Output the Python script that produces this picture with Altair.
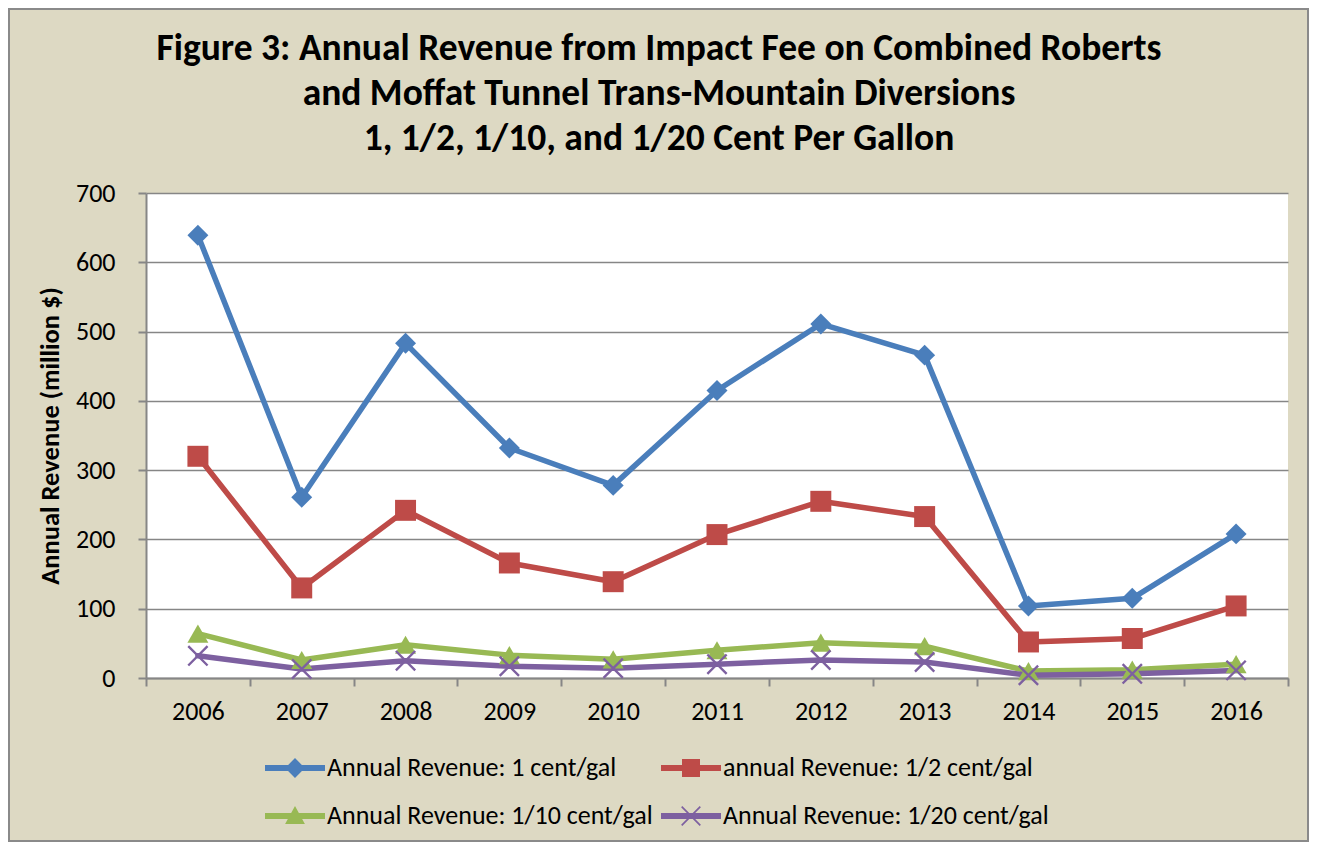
import altair as alt
import pandas as pd

# ---------------- data ----------------
years = list(range(2006, 2017))
series_names = [
    "Annual Revenue: 1 cent/gal",
    "annual Revenue: 1/2 cent/gal",
    "Annual Revenue: 1/10 cent/gal",
    "Annual Revenue: 1/20 cent/gal",
]
rev_1 = [639, 261, 483, 332, 278, 415, 511, 466, 104, 115, 208]
rev_half = [320, 130, 242, 166, 139, 207, 255, 233, 52, 57, 104]
rev_tenth = [64, 26, 48, 33, 27, 40, 51, 46, 10, 12, 20]
rev_twentieth = [32, 13, 25, 17, 14, 20, 26, 23, 4, 6, 11]
y_ticks = [0, 100, 200, 300, 400, 500, 600, 700]
x_tick_edges = [2005.5 + i for i in range(12)]

colors = ["#4A7EBB", "#BE4B48", "#98B954", "#7D60A0"]

rows = []
for name, vals in zip(series_names, [rev_1, rev_half, rev_tenth, rev_twentieth]):
    for yr, v in zip(years, vals):
        rows.append({"year": yr, "value": v, "series": name})
df = pd.DataFrame(rows)

FONT = "Carlito, Lato, sans-serif"

# marker shapes (chart)
x_marker = "M-1,-0.84 L-0.84,-1 L1,0.84 L0.84,1 Z M-0.84,1 L-1,0.84 L0.84,-1 L1,-0.84 Z"
marker_shapes = ["diamond", "square", "triangle-up", x_marker]

# legend symbols: line segment + marker
bar = "M-1,-0.1 L1,-0.1 L1,0.1 L-1,0.1 Z "
legend_shapes = [
    bar + "M0,-0.33 L0.33,0 L0,0.33 L-0.33,0 Z",
    bar + "M-0.3,-0.3 L0.3,-0.3 L0.3,0.3 L-0.3,0.3 Z",
    bar + "M0,-0.33 L0.33,0.27 L-0.33,0.27 Z",
    bar + "M-0.33,-0.29 L-0.29,-0.33 L0.33,0.29 L0.29,0.33 Z "
          "M-0.29,0.33 L-0.33,0.29 L0.29,-0.33 L0.33,-0.29 Z",
]

W, H = 1142, 485
CW, CH = 1301, 834
PAD = {"left": 138, "top": 185, "right": CW - 138 - W, "bottom": CH - 185 - H}

x_enc = alt.X(
    "year:Q",
    scale=alt.Scale(domain=[2005.5, 2016.5], nice=False, zero=False),
    axis=alt.Axis(
        values=x_tick_edges,
        labelExpr="datum.value < 2016 ? format(datum.value + 0.5, 'd') : ''",
        labelOffset=W / 11 / 2,
        labelFlush=False,
        labelOverlap=False,
        labelBound=False,
        grid=False,
        tickSize=8,
        tickWidth=2,
        tickColor="#868686",
        domainColor="#868686",
        domainWidth=2,
        labelFontSize=26,
        labelFont=FONT,
        labelColor="#000000",
        labelPadding=12,
        title=None,
    ),
)
y_enc = alt.Y(
    "value:Q",
    scale=alt.Scale(domain=[0, 700], nice=False),
    axis=alt.Axis(
        values=y_ticks,
        grid=True,
        gridColor="#868686",
        gridWidth=1.5,
        tickSize=8,
        tickWidth=2,
        tickColor="#868686",
        domainColor="#868686",
        domainWidth=2,
        labelFontSize=26,
        labelFont=FONT,
        labelColor="#000000",
        labelPadding=23,
        title="Annual Revenue (million $)",
        titleFont=FONT,
        titleFontSize=26.5,
        titleFontWeight="bold",
        titleColor="#000000",
        titlePadding=11,
    ),
)

color_scale = alt.Scale(domain=series_names, range=colors)

base = alt.Chart(df)

border = alt.Chart(pd.DataFrame({"k": [0]})).mark_rect(
    filled=False, stroke="#8A8A8A", strokeWidth=2
).encode(
    x=alt.value(-137), x2=alt.value(CW - 138 - 1),
    y=alt.value(-184), y2=alt.value(CH - 185 - 1),
)

lines = base.mark_line(strokeWidth=5.5, strokeJoin="round", strokeCap="round").encode(
    x=x_enc,
    y=y_enc,
    color=alt.Color("series:N", scale=color_scale, legend=None),
)

points = base.mark_point(filled=True, opacity=1, size=440).encode(
    x=alt.X("year:Q"),
    y=alt.Y("value:Q"),
    color=alt.Color("series:N", scale=color_scale, legend=None),
    shape=alt.Shape("series:N", scale=alt.Scale(domain=series_names, range=marker_shapes), legend=None),
)

legend_layer = base.transform_filter("datum.value < -1000").mark_point(
    filled=True, opacity=1, size=3600
).encode(
    color=alt.Color(
        "series:N",
        scale=color_scale,
        legend=alt.Legend(
            title=None,
            orient="none",
            direction="horizontal",
            legendX=119,
            legendY=545,
            columns=2,
            symbolSize=3600,
            symbolStrokeWidth=0,
            labelFont=FONT,
            labelFontSize=26,
            labelColor="#000000",
            labelLimit=500,
            labelOffset=2,
            columnPadding=8,
            rowPadding=5,
        ),
    ),
    shape=alt.Shape(
        "series:N",
        scale=alt.Scale(domain=series_names, range=legend_shapes),
        legend=alt.Legend(title=None),
    ),
)

chart = (
    alt.layer(lines, points, legend_layer, border)
    .resolve_scale(color="independent", shape="independent")
    .properties(
        width=W,
        height=H,
        autosize=alt.AutoSizeParams(type="none"),
        padding=PAD,
        view=alt.ViewBackground(fill="#FFFFFF", stroke=None),
        title=alt.TitleParams(
            text=[
                "Figure 3: Annual Revenue from Impact Fee on Combined Roberts",
                "and Moffat Tunnel Trans-Mountain Diversions",
                "1, 1/2, 1/10, and 1/20 Cent Per Gallon",
            ],
            font=FONT,
            fontSize=37.5,
            fontWeight="bold",
            color="#000000",
            anchor="middle",
            dx=-58,
            lineHeight=45,
            offset=-149,
        ),
    )
    .configure(background="#DDD9C3")
    .configure_view(fill="#FFFFFF", stroke=None)
)

chart.save("out.html", embed_options={"renderer": "svg", "actions": False})
